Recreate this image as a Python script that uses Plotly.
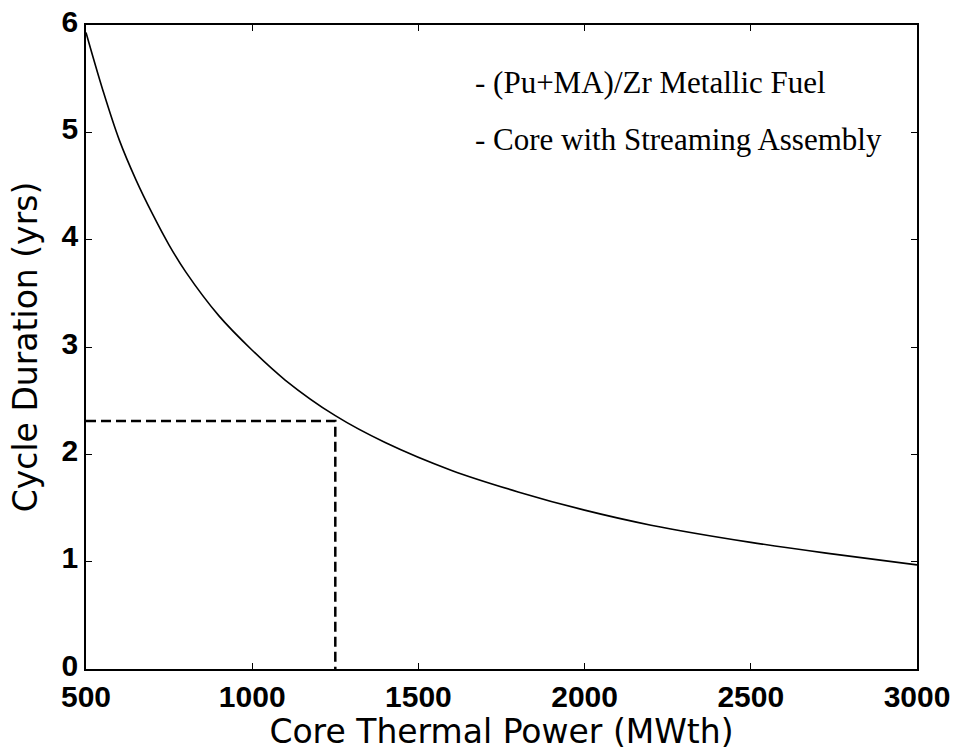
import plotly.graph_objects as go

# Curve data
power_mwth = [500, 550, 600, 650, 700, 750, 800, 900, 1000, 1100, 1250, 1400,
              1600, 1800, 2000, 2200, 2500, 2750, 3000]
cycle_yrs = [5.93, 5.40, 4.93, 4.56, 4.24, 3.95, 3.70, 3.29, 2.97, 2.69, 2.36,
             2.11, 1.85, 1.65, 1.48, 1.34, 1.18, 1.07, 0.97]

# Design point guide lines (dashed)
guide_x = [500, 1250, 1250]
guide_y = [2.31, 2.31, 0]

x_ticks = [500, 1000, 1500, 2000, 2500, 3000]
y_ticks = [0, 1, 2, 3, 4, 5, 6]

notes = ["- (Pu+MA)/Zr Metallic Fuel", "- Core with Streaming Assembly"]
note_y = [5.46, 4.93]

fig = go.Figure()
fig.add_trace(go.Scatter(x=power_mwth, y=cycle_yrs, mode="lines",
                         line=dict(color="black", width=1.6, shape="spline"),
                         showlegend=False))
fig.add_trace(go.Scatter(x=guide_x, y=guide_y, mode="lines",
                         line=dict(color="black", width=2.5, dash="10px,5px"),
                         showlegend=False))

for t, yv in zip(notes, note_y):
    fig.add_annotation(x=1665, y=yv, xref="x", yref="y", text=t, showarrow=False,
                       xanchor="left", yanchor="middle",
                       font=dict(family="Liberation Serif, Times New Roman", size=31, color="black"))

axis_common = dict(showgrid=False, zeroline=False, showline=True, linecolor="black",
                   linewidth=1.5, mirror="ticks", ticks="inside", ticklen=6,
                   tickwidth=1.2, tickcolor="black", automargin=False,
                   tickfont=dict(family="Liberation Sans, Arial", size=30, color="black",
                                 weight="bold"))

title_font = dict(family="DejaVu Sans, Liberation Sans, Arial", size=33, color="black")

fig.update_xaxes(range=[500, 3000], tickvals=x_ticks,
                 title=dict(text="Core Thermal Power (MWth)", standoff=0, font=title_font),
                 **axis_common)
fig.update_yaxes(range=[0, 6], tickvals=y_ticks, ticklabelshift=-4,
                 title=dict(text="Cycle Duration (yrs)", standoff=14, font=title_font),
                 **axis_common)

fig.update_layout(width=954, height=751, plot_bgcolor="white", paper_bgcolor="white",
                  margin=dict(l=86, r=37, t=25, b=82))

fig.write_html("out.html")
